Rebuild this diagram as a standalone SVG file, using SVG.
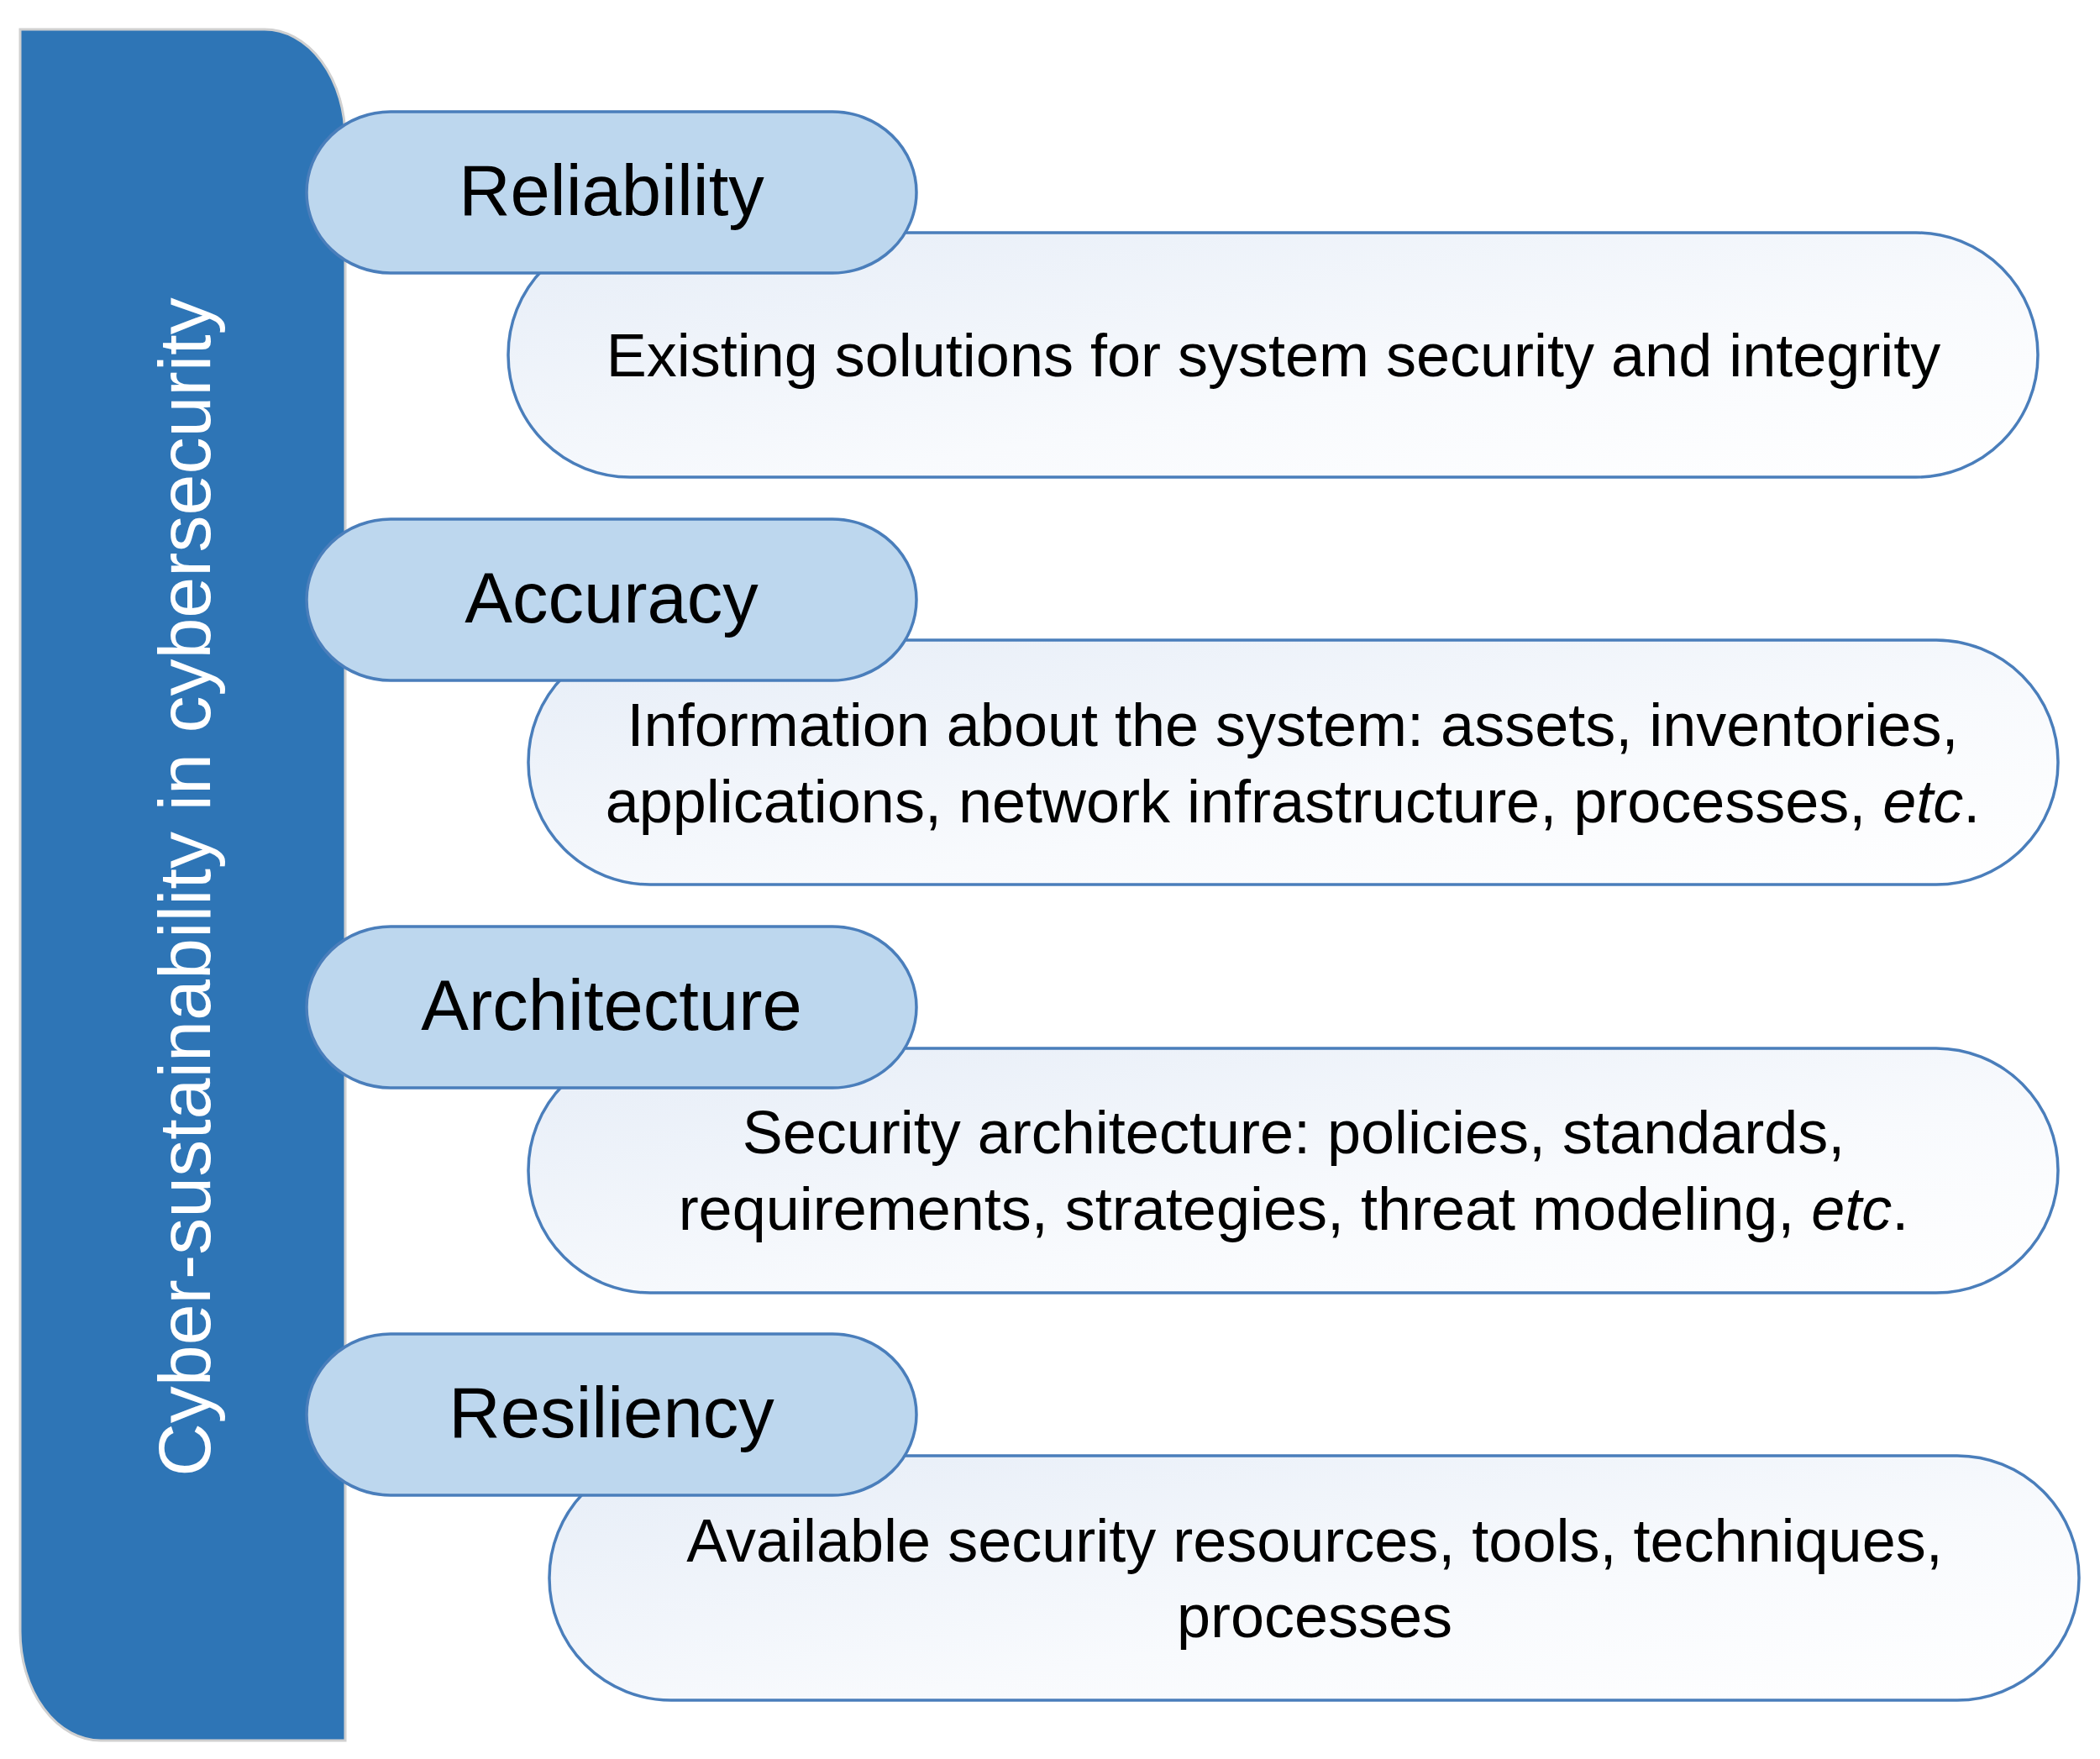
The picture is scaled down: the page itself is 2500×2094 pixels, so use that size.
<svg xmlns="http://www.w3.org/2000/svg" width="2500" height="2094" viewBox="0 0 2500 2094">
<defs>
<linearGradient id="g" x1="0" y1="0" x2="1" y2="1"><stop offset="0" stop-color="#e6edf7"/><stop offset="0.6" stop-color="#f8fafd"/><stop offset="1" stop-color="#ffffff"/></linearGradient>
</defs>
<style>
.d{fill:url(#g);stroke:#4a7ebb;stroke-width:3.5}
.h{fill:#bdd7ee;stroke:#4a7ebb;stroke-width:3.5}
.ht{font-family:"Liberation Sans",Arial,sans-serif;font-size:85px;fill:#000;text-anchor:middle}
.dt{font-family:"Liberation Sans",Arial,sans-serif;font-size:72px;fill:#000;text-anchor:middle}
</style>
<rect width="2500" height="2094" fill="#fff"/>
<g id="bar">
<path d="M24 35 H315 A96 130 0 0 1 411 165 V2072 H120 A96 130 0 0 1 24 1942 Z" fill="#2e75b6" stroke="#d0d0d0" stroke-width="3"/>
<text transform="translate(250 1056) rotate(-90)" font-family="Liberation Sans,Arial,sans-serif" font-size="88" fill="#fff" text-anchor="middle">Cyber-sustainability in cybersecurity</text>
</g>
<g id="connectors"/>
<g id="d1"><rect class="d" x="605" y="277" width="1821" height="291" rx="145" ry="145"/><text class="dt" x="1516" y="448">Existing solutions for system security and integrity</text></g>
<g id="h1"><rect class="h" x="365" y="133" width="726" height="192" rx="100" ry="96"/><text class="ht" x="728" y="256">Reliability</text></g>
<g id="d2"><rect class="d" x="629" y="762" width="1821" height="291" rx="145" ry="145"/><text class="dt" x="1539" y="888">Information about the system: assets, inventories,</text><text class="dt" x="1539" y="979">applications, network infrastructure, processes, <tspan font-style="italic">etc</tspan>.</text></g>
<g id="h2"><rect class="h" x="365" y="618" width="726" height="192" rx="100" ry="96"/><text class="ht" x="728" y="741">Accuracy</text></g>
<g id="d3"><rect class="d" x="629" y="1248" width="1821" height="291" rx="145" ry="145"/><text class="dt" x="1540" y="1373">Security architecture: policies, standards,</text><text class="dt" x="1540" y="1464">requirements, strategies, threat modeling, <tspan font-style="italic">etc</tspan>.</text></g>
<g id="h3"><rect class="h" x="365" y="1103" width="726" height="192" rx="100" ry="96"/><text class="ht" x="728" y="1226">Architecture</text></g>
<g id="d4"><rect class="d" x="654" y="1733" width="1821" height="291" rx="145" ry="145"/><text class="dt" x="1565" y="1859">Available security resources, tools, techniques,</text><text class="dt" x="1565" y="1949">processes</text></g>
<g id="h4"><rect class="h" x="365" y="1588" width="726" height="192" rx="100" ry="96"/><text class="ht" x="728" y="1711">Resiliency</text></g>
</svg>
